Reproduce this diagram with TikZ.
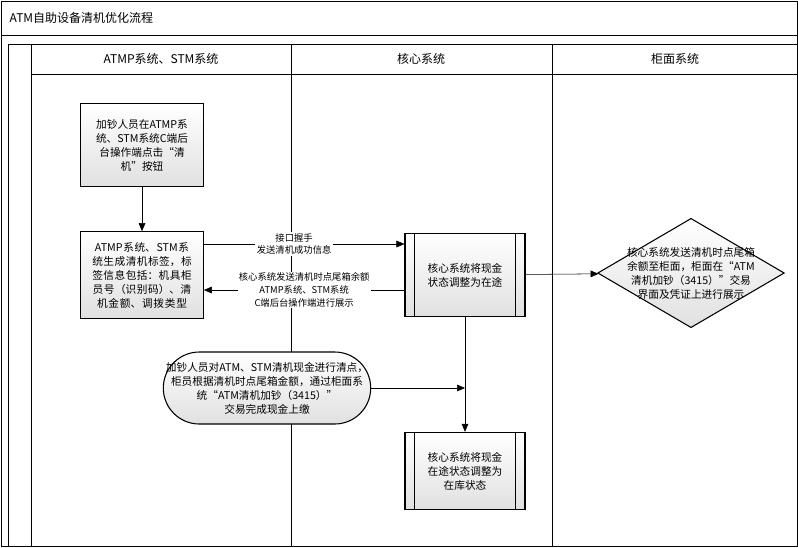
\documentclass[tikz,border=0pt]{standalone}
\usepackage{fontspec}
\setmainfont{Noto Sans CJK SC}
\XeTeXlinebreaklocale "zh"
\XeTeXlinebreakskip=0pt plus 1pt
\usetikzlibrary{shapes.geometric,arrows.meta}
\begin{document}
\begin{tikzpicture}[x=0.75pt,y=-0.75pt,
  every node/.style={font=\fontsize{8}{10.5}\selectfont,align=center},
  box/.style={draw,thick,top color=white,bottom color=black!12,inner sep=2pt},
  arr/.style={draw,-{Triangle[length=6pt,width=5pt]}},
  lbl/.style={fill=white,inner sep=1pt,font=\fontsize{7}{9.5}\selectfont},
  ln/.style={draw,line width=0.6pt}]
\useasboundingbox (0,0) rectangle (798,547);
\draw[ln] (1,1) rectangle (797,546);
\draw[ln] (1,35) -- (797,35);
\node[anchor=west,font=\fontsize{9}{11}\selectfont] (title) at (5,18) {ATM自助设备清机优化流程};
\draw[ln] (8,44) rectangle (797,546);
\draw[ln] (31,44) -- (31,546);
\draw[ln] (31,74) -- (797,74);
\draw[ln] (291,44) -- (291,546);
\draw[ln] (552,44) -- (552,546);
\node[font=\fontsize{9}{11}\selectfont] (h1) at (161,59) {ATMP系统、STM系统};
\node[font=\fontsize{9}{11}\selectfont] (h2) at (421,59) {核心系统};
\node[font=\fontsize{9}{11}\selectfont] (h3) at (675,59) {柜面系统};
% nodes
\node[box,minimum width=92pt,minimum height=62pt] (A) at (142,145) {加钞人员在ATMP系\\统、STM系统C端后\\台操作端点击“清\\机”按钮};
\node[box,minimum width=92pt,minimum height=65pt,text width=86pt] (B) at (142,275) {ATMP系统、STM系统生成清机标签，标签信息包括：机具柜员号（识别码）、清机金额、调拨类型};
\node[box,minimum width=90pt,minimum height=62pt] (C) at (465,275) {核心系统将现金\\状态调整为在途};
\draw ([xshift=7.5pt]C.north west) -- ([xshift=7.5pt]C.south west);
\draw ([xshift=-7.5pt]C.north east) -- ([xshift=-7.5pt]C.south east);
\node[box,diamond,aspect=1.7,minimum width=140pt,minimum height=82pt,inner sep=-12pt] (D) at (691,273) {核心系统发送清机时点尾箱\\余额至柜面，柜面在“ATM\\清机加钞（3415）”交易\\界面及凭证上进行展示};
\node[box,rounded corners=27pt,minimum width=150pt,minimum height=54pt] (E) at (267,388) {加钞人员对ATM、STM清机现金进行清点，\\柜员根据清机时点尾箱金额，通过柜面系\\统“ATM清机加钞（3415）”\\交易完成现金上缴};
\node[box,minimum width=90pt,minimum height=58pt] (F) at (465,471) {核心系统将现金\\在途状态调整为\\在库状态};
\draw ([xshift=7.5pt]F.north west) -- ([xshift=7.5pt]F.south west);
\draw ([xshift=-7.5pt]F.north east) -- ([xshift=-7.5pt]F.south east);
% connectors
\draw[arr] (A) -- (B);
\draw[arr] (B.east |- 0,244) -- node[lbl,pos=0.45] {接口握手\\发送清机成功信息} (C.west |- 0,244);
\draw[arr] (C.west |- 0,290) -- node[lbl,pos=0.5] {核心系统发送清机时点尾箱余额\\ATMP系统、STM系统\\C端后台操作端进行展示} (B.east |- 0,290);
\draw[arr] (C) -- (D);
\draw[arr] (C) -- (F);
\coordinate (m) at (465,388);
\draw[arr] (E) -- (m);
\end{tikzpicture}
\end{document}
